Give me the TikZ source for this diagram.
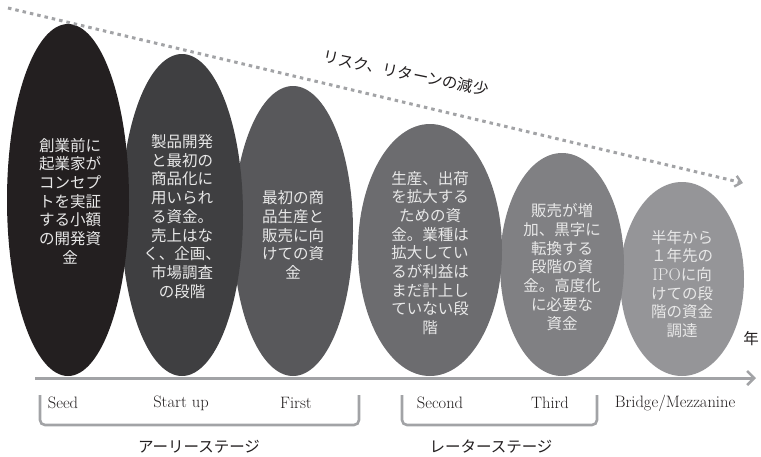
\documentclass[tikz,border=0pt]{standalone}
\usepackage{fontspec}
\newfontfamily\jp{Noto Sans CJK JP}
\usetikzlibrary{arrows.meta}
\definecolor{cA}{HTML}{231F20}
\definecolor{cB}{HTML}{3F3F41}
\definecolor{cC}{HTML}{58585B}
\definecolor{cD}{HTML}{6C6C6F}
\definecolor{cE}{HTML}{808083}
\definecolor{cF}{HTML}{959598}
\definecolor{lineg}{HTML}{A2A3A6}
\definecolor{textc}{HTML}{E8E8E8}
\definecolor{ink}{HTML}{231F20}
\begin{document}
\begin{tikzpicture}[x=1pt,y=-1pt,
  txt/.style={text=textc, align=center, inner sep=0pt, font=\jp\fontsize{15.5}{18.7}\selectfont},
  stagelbl/.style={text=ink, inner sep=0pt, font=\fontsize{16.5}{19}\selectfont},
  jplbl/.style={text=ink, inner sep=0pt, font=\jp\fontsize{15.5}{18}\selectfont},
  bracketline/.style={draw=lineg, line width=2.6pt, rounded corners=5pt},
  axisline/.style={draw=lineg, line width=3pt, -{Straight Barb[length=7pt,width=14pt,line width=2.6pt]}},
  riskline/.style={draw=lineg, line width=3pt, dash pattern=on 3.5pt off 4pt, -{Straight Barb[length=6pt,width=11pt,line width=2.4pt]}}
]
\useasboundingbox (0,0) rectangle (761,456);

% ellipses (later ones underneath)
\fill[cF] (682,279) ellipse [x radius=62pt, y radius=97pt];
\fill[cE] (562,264.5) ellipse [x radius=62pt, y radius=111.5pt];
\fill[cD] (430,250) ellipse [x radius=72pt, y radius=126pt];
\fill[cC] (293,231) ellipse [x radius=60pt, y radius=145pt];
\fill[cB] (182,215) ellipse [x radius=61pt, y radius=161pt];
\fill[cA] (68,200) ellipse [x radius=61pt, y radius=176pt];

% texts in ellipses
\node[txt] (t1) at (70,201) {創業前に\\起業家が\\コンセプ\\トを実証\\する小額\\の開発資\\金};
\node[txt] (t2) at (182,216.5) {製品開発\\と最初の\\商品化に\\用いられ\\る資金。\\売上はな\\く、企画、\\市場調査\\の段階};
\node[txt] (t3) at (293,235) {最初の商\\品生産と\\販売に向\\けての資\\金};
\node[txt] (t4) at (430,253) {生産、出荷\\を拡大する\\ための資\\金。業種は\\拡大してい\\るが利益は\\まだ計上し\\ていない段\\階};
\node[txt] (t5) at (562,267) {販売が増\\加、黒字に\\転換する\\段階の資\\金。高度化\\に必要な\\資金};
\node[txt] (t6) at (682,284) {半年から\\１年先の\\{\rmfamily\fontsize{17}{18.7}\selectfont IPO}に向\\けての段\\階の資金\\調達};

% risk line
\coordinate (ds) at (8,8);
\coordinate (de) at (743,183);
\draw[riskline] (ds) -- (de);
\node[jplbl, rotate=-11.5] (risk) at (406,73) {リスク、リターンの減少};

% axis
\coordinate (axs) at (35,378);
\coordinate (axe) at (756,378);
\draw[axisline] (axs) -- (axe);
\node[jplbl] (year) at (751,338.5) {年};

% stage labels
\node[stagelbl] (seed) at (63,403) {Seed};
\node[stagelbl] (startup) at (181,403) {Start up};
\node[stagelbl] (first) at (296,403) {First};
\node[stagelbl] (second) at (440,403) {Second};
\node[stagelbl] (third) at (550,403) {Third};
\node[stagelbl] (bridge) at (675,403) {Bridge/Mezzanine};

% brackets
\draw[bracketline] (40,395) -- (40,425) -- (359,425) -- (359,395);
\draw[bracketline] (402,395) -- (402,425) -- (597,425) -- (597,395);

\node[jplbl] (early) at (199,447) {アーリーステージ};
\node[jplbl] (late) at (491,447) {レーターステージ};
\end{tikzpicture}
\end{document}
